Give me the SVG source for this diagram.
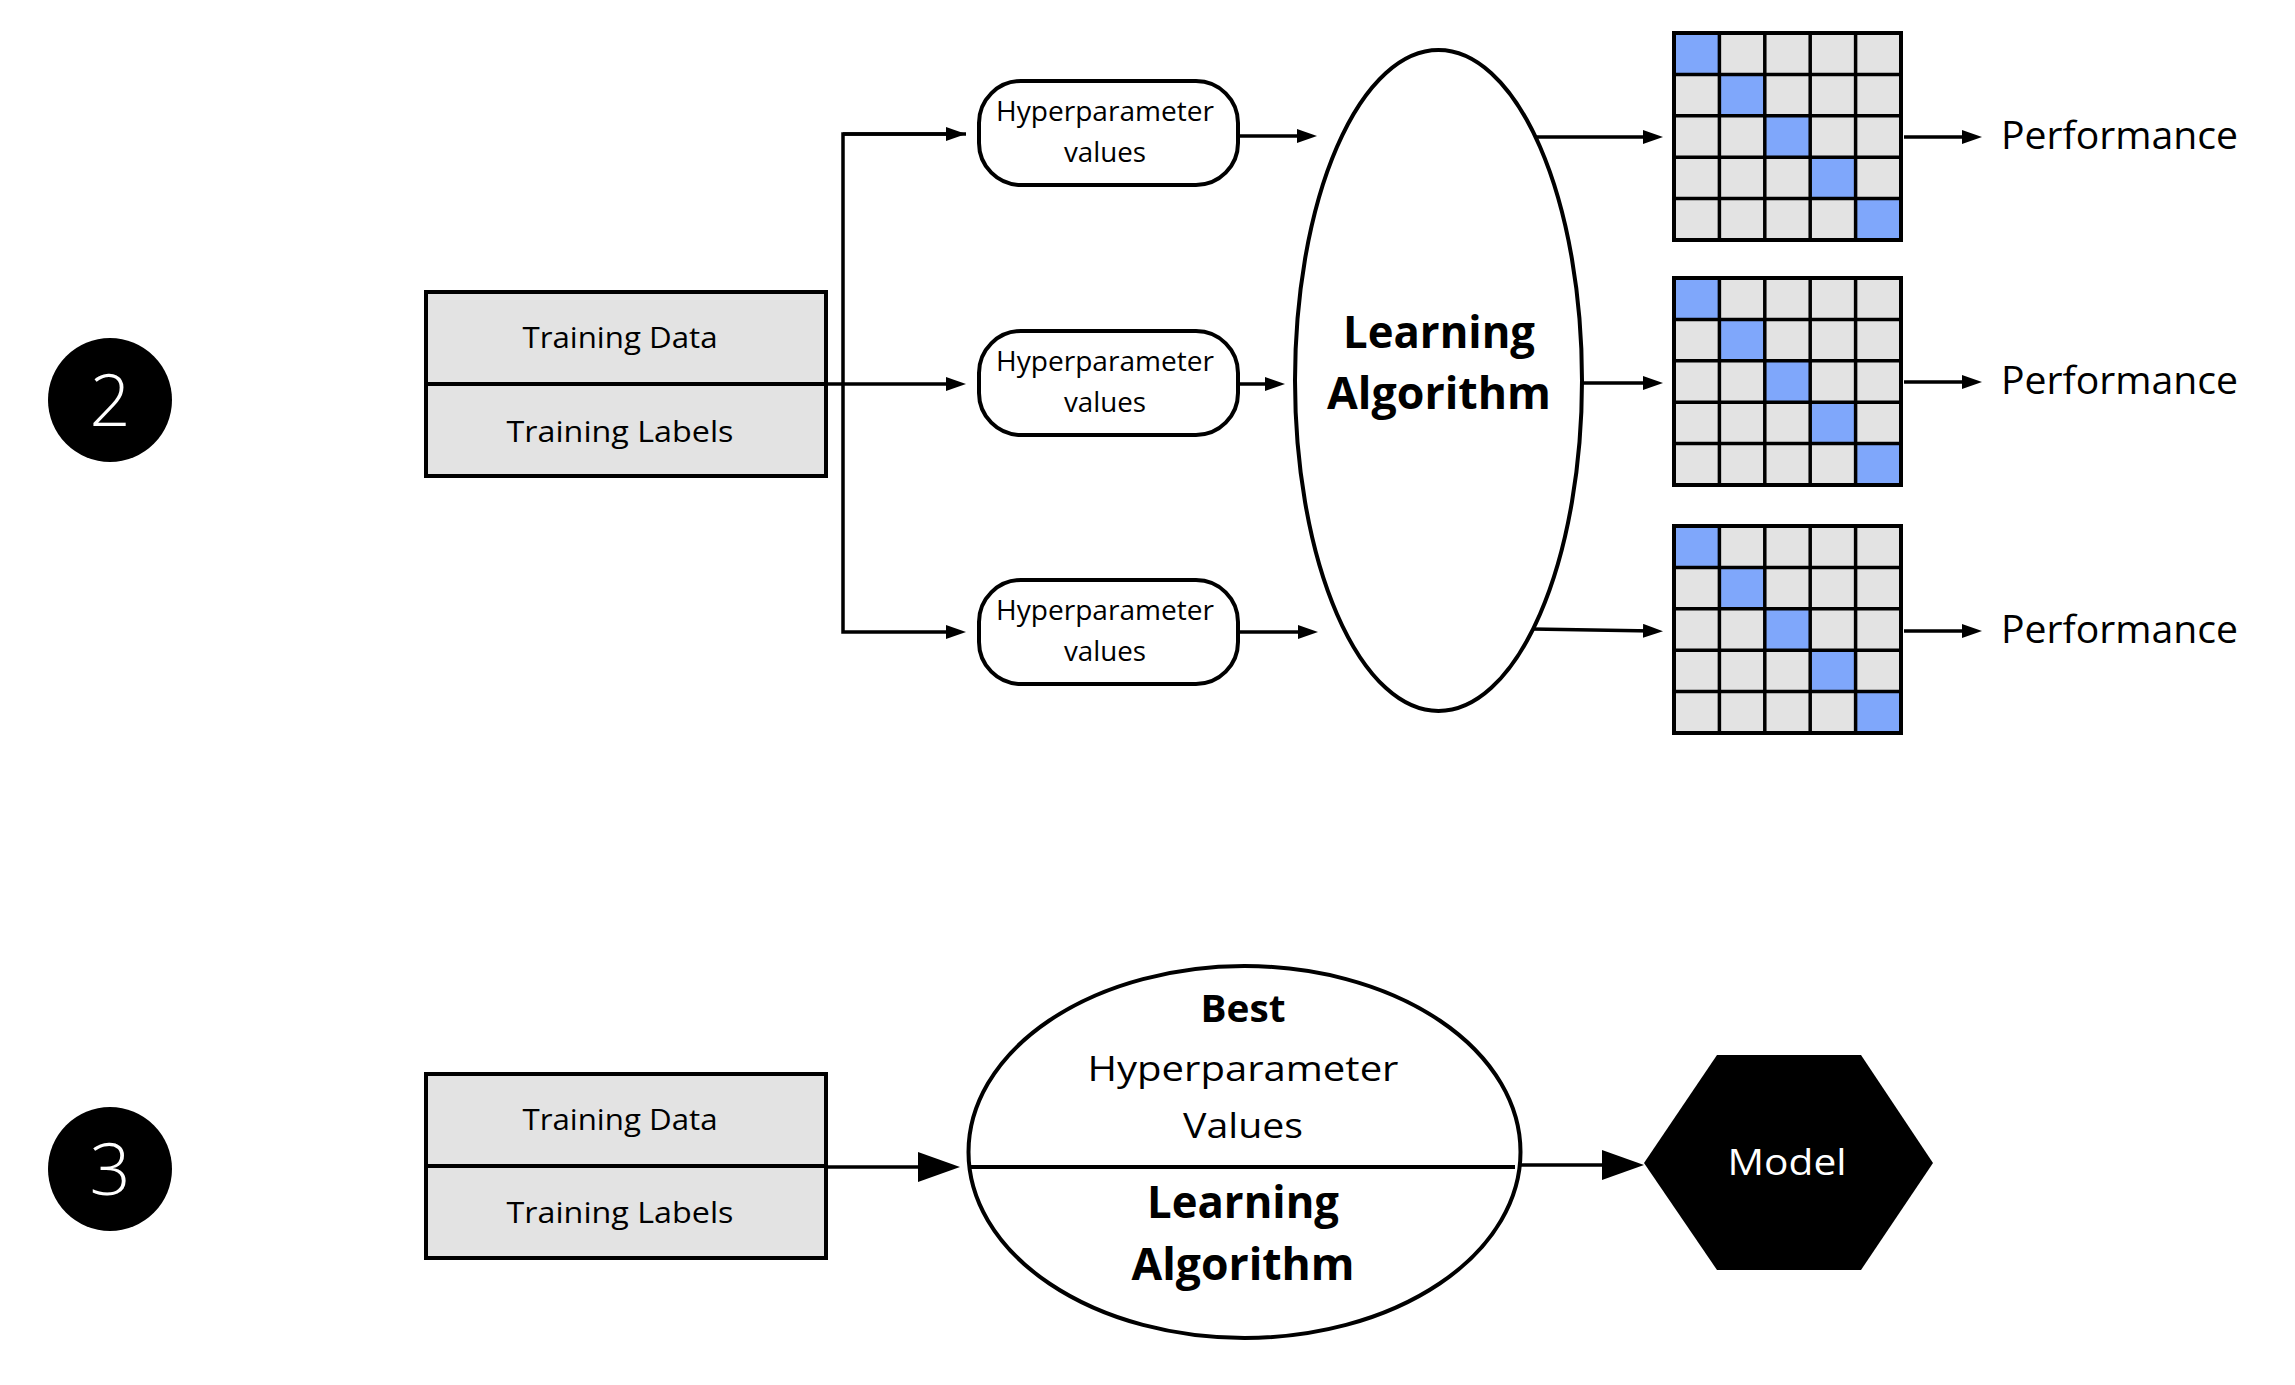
<svg xmlns="http://www.w3.org/2000/svg" xmlns:xlink="http://www.w3.org/1999/xlink" width="2295" height="1385" viewBox="0 0 2295 1385">
<style>
.bg{fill:#ffffff}
.box{fill:#e3e3e3;stroke:#000;stroke-width:4}
.div{stroke:#000;stroke-width:4;fill:none}
.pill{fill:#fff;stroke:#000;stroke-width:4}
.ell{fill:#fff;stroke:#000;stroke-width:4}
.ln{stroke:#000;stroke-width:3.5;fill:none}
.t{font-family:"Open Sans","Liberation Sans",sans-serif;fill:#000;text-anchor:middle}
.b{font-family:"Open Sans","Liberation Sans",sans-serif;font-weight:700;fill:#000;text-anchor:middle}
.w{font-family:"Open Sans","Liberation Sans",sans-serif;fill:#fff;text-anchor:middle}
.perf{font-family:"Open Sans","Liberation Sans",sans-serif;fill:#000;font-size:38px}
.gl{stroke:#000;stroke-width:3.5}
</style>
<defs>
<marker id="as" viewBox="0 0 20 14" refX="10" refY="7" markerWidth="20" markerHeight="14" markerUnits="userSpaceOnUse" orient="auto">
<path d="M0,0 L20,7 L0,14 z" fill="#000"/>
</marker>
<marker id="ab" viewBox="0 0 42 30" refX="20" refY="15" markerWidth="42" markerHeight="30" markerUnits="userSpaceOnUse" orient="auto">
<path d="M0,0 L42,15 L0,30 z" fill="#000"/>
</marker>
<g id="cm">
<rect x="0" y="0" width="227" height="207" fill="#e3e3e3"/>
<rect x="0" y="0" width="45.4" height="41.4" fill="#7fa7fb"/>
<rect x="45.4" y="41.4" width="45.4" height="41.4" fill="#7fa7fb"/>
<rect x="90.8" y="82.8" width="45.4" height="41.4" fill="#7fa7fb"/>
<rect x="136.2" y="124.2" width="45.4" height="41.4" fill="#7fa7fb"/>
<rect x="181.6" y="165.6" width="45.4" height="41.4" fill="#7fa7fb"/>
<path class="gl" d="M45.4,0V207M90.8,0V207M136.2,0V207M181.6,0V207M0,41.4H227M0,82.8H227M0,124.2H227M0,165.6H227"/>
<rect x="0" y="0" width="227" height="207" fill="none" stroke="#000" stroke-width="4"/>
</g>
</defs>
<rect class="bg" x="0" y="0" width="2295" height="1385"/>

<g id="badge2">
<circle cx="110" cy="400" r="62" fill="#000"/>
<text class="w" x="110" y="426" font-size="72" font-weight="300">2</text>
</g>
<g id="badge3">
<circle cx="110" cy="1169" r="62" fill="#000"/>
<text class="w" x="110" y="1195" font-size="72" font-weight="300">3</text>
</g>

<g id="connectors">
<path class="ln" d="M966,134 H843 V632 H956" marker-end="url(#as)"/>
<path class="ln" d="M843,134 H956" marker-end="url(#as)"/>
<path class="ln" d="M826,384 H956" marker-end="url(#as)"/>
<path class="ln" d="M1238,136 H1307" marker-end="url(#as)"/>
<path class="ln" d="M1238,384 H1275" marker-end="url(#as)"/>
<path class="ln" d="M1238,632 H1308" marker-end="url(#as)"/>
<path class="ln" d="M1536,137 L1653,137" marker-end="url(#as)"/>
<path class="ln" d="M1581,383 L1653,383" marker-end="url(#as)"/>
<path class="ln" d="M1532,629 L1653,631" marker-end="url(#as)"/>
<path class="ln" d="M1904,137 H1972" marker-end="url(#as)"/>
<path class="ln" d="M1904,382 H1972" marker-end="url(#as)"/>
<path class="ln" d="M1904,631 H1972" marker-end="url(#as)"/>
<path class="ln" d="M826,1167 H938" marker-end="url(#ab)"/>
<path class="ln" d="M1520,1165 H1622" marker-end="url(#ab)"/>
</g>

<g id="train2">
<rect class="box" x="426" y="292" width="400" height="184"/>
<line class="div" x1="426" y1="384" x2="826" y2="384"/>
<text class="t" x="620" y="348" font-size="30" textLength="195" lengthAdjust="spacingAndGlyphs">Training Data</text>
<text class="t" x="620" y="442" font-size="30" textLength="227" lengthAdjust="spacingAndGlyphs">Training Labels</text>
</g>

<g id="hp1">
<rect class="pill" x="979" y="81" width="259" height="104" rx="42" ry="42"/>
<text class="t" x="1105" y="121" font-size="27" textLength="218" lengthAdjust="spacingAndGlyphs">Hyperparameter</text>
<text class="t" x="1105" y="162" font-size="27" textLength="82" lengthAdjust="spacingAndGlyphs">values</text>
</g>
<g id="hp2">
<rect class="pill" x="979" y="331" width="259" height="104" rx="42" ry="42"/>
<text class="t" x="1105" y="371" font-size="27" textLength="218" lengthAdjust="spacingAndGlyphs">Hyperparameter</text>
<text class="t" x="1105" y="412" font-size="27" textLength="82" lengthAdjust="spacingAndGlyphs">values</text>
</g>
<g id="hp3">
<rect class="pill" x="979" y="580" width="259" height="104" rx="42" ry="42"/>
<text class="t" x="1105" y="620" font-size="27" textLength="218" lengthAdjust="spacingAndGlyphs">Hyperparameter</text>
<text class="t" x="1105" y="661" font-size="27" textLength="82" lengthAdjust="spacingAndGlyphs">values</text>
</g>

<g id="algo2">
<ellipse class="ell" cx="1438.5" cy="380.5" rx="143.5" ry="330.5"/>
<text class="b" x="1439" y="348" font-size="45" textLength="192" lengthAdjust="spacingAndGlyphs">Learning</text>
<text class="b" x="1439" y="409" font-size="45" textLength="224" lengthAdjust="spacingAndGlyphs">Algorithm</text>
</g>

<g id="cm1"><use xlink:href="#cm" x="1674" y="33"/></g>
<g id="cm2"><use xlink:href="#cm" x="1674" y="278"/></g>
<g id="cm3"><use xlink:href="#cm" x="1674" y="526"/></g>

<g id="perf1"><text class="perf" x="2001" y="149" textLength="237" lengthAdjust="spacingAndGlyphs">Performance</text></g>
<g id="perf2"><text class="perf" x="2001" y="394" textLength="237" lengthAdjust="spacingAndGlyphs">Performance</text></g>
<g id="perf3"><text class="perf" x="2001" y="643" textLength="237" lengthAdjust="spacingAndGlyphs">Performance</text></g>

<g id="train3">
<rect class="box" x="426" y="1074" width="400" height="184"/>
<line class="div" x1="426" y1="1166" x2="826" y2="1166"/>
<text class="t" x="620" y="1130" font-size="30" textLength="195" lengthAdjust="spacingAndGlyphs">Training Data</text>
<text class="t" x="620" y="1223" font-size="30" textLength="227" lengthAdjust="spacingAndGlyphs">Training Labels</text>
</g>

<g id="algo3">
<ellipse class="ell" cx="1244.5" cy="1152" rx="276" ry="186"/>
<line class="div" x1="970" y1="1167" x2="1515" y2="1167"/>
<text class="b" x="1243" y="1022" font-size="37" textLength="85" lengthAdjust="spacingAndGlyphs">Best</text>
<text class="t" x="1243" y="1081" font-size="35" textLength="311" lengthAdjust="spacingAndGlyphs">Hyperparameter</text>
<text class="t" x="1243" y="1138" font-size="35" textLength="120" lengthAdjust="spacingAndGlyphs">Values</text>
<text class="b" x="1243" y="1218" font-size="45" textLength="192" lengthAdjust="spacingAndGlyphs">Learning</text>
<text class="b" x="1243" y="1280" font-size="45" textLength="223" lengthAdjust="spacingAndGlyphs">Algorithm</text>
</g>

<g id="model">
<polygon points="1644,1163 1717,1055 1861,1055 1933,1163 1861,1270 1717,1270" fill="#000"/>
<text class="w" x="1787" y="1175" font-size="37" textLength="119" lengthAdjust="spacingAndGlyphs">Model</text>
</g>
</svg>
